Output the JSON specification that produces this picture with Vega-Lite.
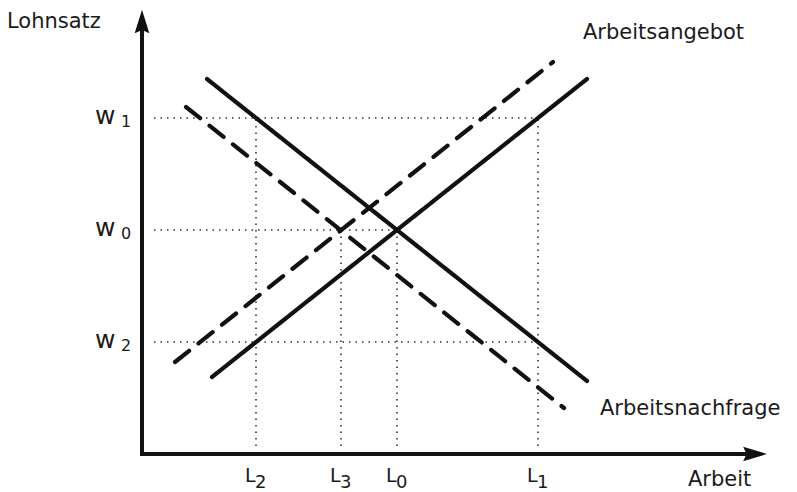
{
  "$schema": "https://vega.github.io/schema/vega-lite/v6.json",
  "width": 797,
  "height": 492,
  "padding": 0,
  "autosize": {"type": "none"},
  "background": "white",
  "config": {"view": {"stroke": null}, "axis": {"disable": true}, "text": {"font": "DejaVu Sans", "color": "#1a1a1a"}},
  "datasets": {
    "curves": [
      {"curve": "D0", "style": "solid", "x": 6.5, "y": 37.5},
      {"curve": "D0", "style": "solid", "x": 44.5, "y": 7.3},
      {"curve": "S0", "style": "solid", "x": 7.0, "y": 7.7},
      {"curve": "S0", "style": "solid", "x": 44.5, "y": 37.5},
      {"curve": "S1", "style": "dashed", "x": 3.3, "y": 9.2},
      {"curve": "S1", "style": "dashed", "x": 41.1, "y": 39.2},
      {"curve": "D1", "style": "dashed", "x": 4.4, "y": 34.7},
      {"curve": "D1", "style": "dashed", "x": 42.2, "y": 4.6}
    ],
    "hguides": [
      {"w": "1", "y": 33.6, "x0": 1.2, "x1": 39.6},
      {"w": "0", "y": 22.4, "x0": 1.2, "x1": 25.5},
      {"w": "2", "y": 11.2, "x0": 1.2, "x1": 39.6}
    ],
    "vguides": [
      {"L": "2", "x": 11.4, "y0": 0.8, "y1": 33.6},
      {"L": "3", "x": 19.9, "y0": 0.8, "y1": 22.4},
      {"L": "0", "x": 25.5, "y0": 0.8, "y1": 22.4},
      {"L": "1", "x": 39.6, "y0": 0.8, "y1": 33.6}
    ],
    "axes": [
      {"axis": "y", "x0": 0, "x1": 0, "y0": -0.2, "y1": 43.0},
      {"axis": "x", "x0": -0.2, "x1": 61.0, "y0": 0, "y1": 0}
    ],
    "heads": [
      {"axis": "y", "x": 0, "y": 43.25, "angle": 0},
      {"axis": "x", "x": 61.3, "y": 0, "angle": 90}
    ],
    "titles": [
      {"text": "Lohnsatz", "x": -13.5, "y": 42.6},
      {"text": "Arbeitsangebot", "x": 44.1, "y": 41.5},
      {"text": "Arbeitsnachfrage", "x": 45.8, "y": 3.9},
      {"text": "Arbeit", "x": 54.6, "y": -3.2}
    ]
  },
  "layer": [
    {
      "data": {"name": "hguides"},
      "mark": {"type": "rule", "strokeDash": [1.5, 5], "strokeWidth": 1.6, "color": "#333333"},
      "encoding": {
        "x": {"field": "x0", "type": "quantitative", "scale": {"domain": [-14.2, 65.5], "nice": false, "zero": false}},
        "x2": {"field": "x1"},
        "y": {"field": "y", "type": "quantitative", "scale": {"domain": [-3.8, 45.4], "nice": false, "zero": false}}
      }
    },
    {
      "data": {"name": "vguides"},
      "mark": {"type": "rule", "strokeDash": [1.5, 5], "strokeWidth": 1.6, "color": "#333333"},
      "encoding": {
        "x": {"field": "x", "type": "quantitative"},
        "y": {"field": "y0", "type": "quantitative"},
        "y2": {"field": "y1"}
      }
    },
    {
      "data": {"name": "curves"},
      "mark": {"type": "line", "strokeWidth": 4.2, "color": "#111111", "strokeCap": "round"},
      "encoding": {
        "x": {"field": "x", "type": "quantitative"},
        "y": {"field": "y", "type": "quantitative"},
        "detail": {"field": "curve"},
        "strokeDash": {"field": "style", "type": "nominal", "legend": null,
          "scale": {"domain": ["solid", "dashed"], "range": [[1, 0], [18, 12]]}}
      }
    },
    {
      "data": {"name": "axes"},
      "mark": {"type": "rule", "strokeWidth": 4, "color": "#111111"},
      "encoding": {
        "x": {"field": "x0", "type": "quantitative"},
        "x2": {"field": "x1"},
        "y": {"field": "y0", "type": "quantitative"},
        "y2": {"field": "y1"}
      }
    },
    {
      "data": {"name": "heads"},
      "mark": {"type": "point", "filled": true, "opacity": 1, "color": "#111111", "size": 560,
        "shape": "M0,-1L0.62,1L0,0.72L-0.62,1Z"},
      "encoding": {
        "x": {"field": "x", "type": "quantitative"},
        "y": {"field": "y", "type": "quantitative"},
        "angle": {"field": "angle", "type": "quantitative", "scale": null}
      }
    },
    {
      "data": {"name": "titles"},
      "mark": {"type": "text", "align": "left", "baseline": "alphabetic", "fontSize": 21},
      "encoding": {
        "x": {"field": "x", "type": "quantitative"},
        "y": {"field": "y", "type": "quantitative"},
        "text": {"field": "text"}
      }
    },
    {
      "data": {"name": "hguides"},
      "mark": {"type": "text", "align": "left", "baseline": "alphabetic", "fontSize": 25, "dy": 6},
      "encoding": {
        "x": {"datum": -4.7},
        "y": {"field": "y", "type": "quantitative"},
        "text": {"value": "w"}
      }
    },
    {
      "data": {"name": "hguides"},
      "mark": {"type": "text", "align": "left", "baseline": "alphabetic", "fontSize": 16, "dy": 9},
      "encoding": {
        "x": {"datum": -2.1},
        "y": {"field": "y", "type": "quantitative"},
        "text": {"field": "w"}
      }
    },
    {
      "data": {"name": "vguides"},
      "mark": {"type": "text", "align": "left", "baseline": "alphabetic", "fontSize": 19, "dx": -11},
      "encoding": {
        "x": {"field": "x", "type": "quantitative"},
        "y": {"datum": -2.8},
        "text": {"value": "L"}
      }
    },
    {
      "data": {"name": "vguides"},
      "mark": {"type": "text", "align": "left", "baseline": "alphabetic", "fontSize": 18, "dx": -1},
      "encoding": {
        "x": {"field": "x", "type": "quantitative"},
        "y": {"datum": -3.4},
        "text": {"field": "L"}
      }
    }
  ]
}
